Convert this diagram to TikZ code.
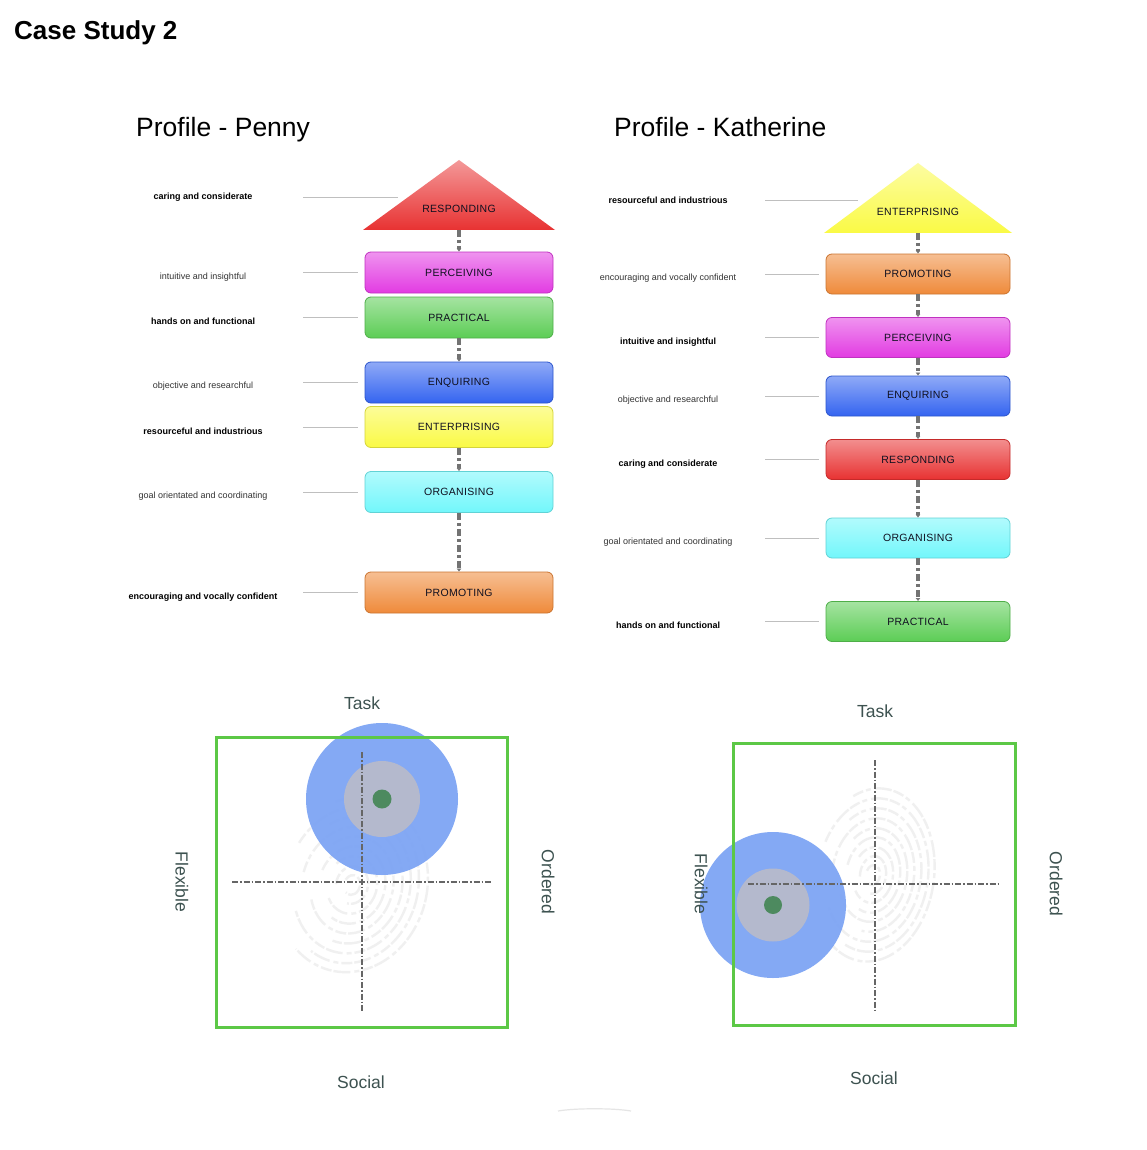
\documentclass[tikz,border=0pt]{standalone}
\usepackage{fontspec}
\setmainfont{Liberation Sans}
\newfontfamily\boxfont[LetterSpace=3]{Liberation Sans}
\usetikzlibrary{arrows.meta}
\definecolor{cmag}{HTML}{E23BE2}
\definecolor{cgrn}{HTML}{5CCD55}
\definecolor{cblu}{HTML}{3464F0}
\definecolor{cyel}{HTML}{FAFA45}
\definecolor{ccya}{HTML}{72F7FB}
\definecolor{cora}{HTML}{EF8A3A}
\definecolor{cred}{HTML}{E83232}
\definecolor{txtdark}{HTML}{101020}
\definecolor{qtext}{HTML}{3D5250}
\definecolor{qgreen}{HTML}{5CC846}
\definecolor{qblue}{HTML}{7AA2F4}
\definecolor{qgray}{HTML}{B4B9CD}
\definecolor{qdot}{HTML}{4D8A5F}
\tikzset{
  box/.style={draw=#1!85!black, rounded corners=6pt, minimum height=41pt, line width=0.8pt,
    font=\boxfont\fontsize{10.5}{12}\selectfont, text=txtdark, top color=#1!55!white, bottom color=#1, inner sep=0pt},
  pbox/.style={box=#1, minimum width=188pt},
  kbox/.style={box=#1, minimum width=184pt, minimum height=40pt},
  tritext/.style={font=\boxfont\fontsize{10.5}{12}\selectfont, text=txtdark, inner sep=0pt},
  conn/.style={draw=black!55, line width=4pt, dash pattern=on 7pt off 3pt on 3pt off 3pt,
    arrows={-Latex[length=3pt,width=5pt]}},
  lline/.style={draw=black!25, line width=0.8pt},
  lbold/.style={font=\bfseries\fontsize{9}{11}\selectfont, text=black, inner sep=0pt},
  lreg/.style={font=\fontsize{9}{11}\selectfont, text=black!80, inner sep=0pt},
  head/.style={font=\fontsize{26.5}{30}\selectfont, text=black, inner sep=0pt, anchor=base west},
  qlabel/.style={font=\fontsize{17.5}{20}\selectfont, text=qtext, inner sep=0pt},
  qframe/.style={draw=qgreen, line width=3pt},
  qaxis/.style={draw=black!60, line width=1.8pt, dash pattern=on 6pt off 2pt on 1.5pt off 2pt},
  fp/.style={draw=black!6, line width=2.4pt, dash pattern=on 11pt off 3pt on 5pt off 4pt on 17pt off 2pt},
}
\begin{document}
\begin{tikzpicture}[x=1pt,y=-1pt]
\useasboundingbox[fill=white] (0,0) rectangle (1146,1150);

% Title and headers
\node[anchor=base west, font=\bfseries\fontsize{26}{30}\selectfont, inner sep=0pt] (title) at (14,40) {Case Study 2};
\node[head] (hp) at (136,137) {Profile - Penny};
\node[head] (hk) at (614,137) {Profile - Katherine};

% ================= Penny profile =================
\shade[top color=cred!50!white, bottom color=cred] (459,160) -- (555,230) -- (363,230) -- cycle;
\coordinate (pTri) at (459,230);
\node[tritext] (pTriT) at (459,209) {RESPONDING};
\node[pbox=cmag] (pPer) at (459,272.5) {PERCEIVING};
\node[pbox=cgrn] (pPra) at (459,317.5) {PRACTICAL};
\node[pbox=cblu] (pEnq) at (459,382.5) {ENQUIRING};
\node[pbox=cyel] (pEnt) at (459,427) {ENTERPRISING};
\node[pbox=ccya] (pOrg) at (459,492) {ORGANISING};
\node[pbox=cora] (pPro) at (459,592.5) {PROMOTING};

\draw[conn] (pTri) -- (pPer.north);
\draw[conn] (pPra.south) -- (pEnq.north);
\draw[conn] (pEnt.south) -- (pOrg.north);
\draw[conn] (pOrg.south) -- (pPro.north);

\node[lbold] (pL1) at (203,197) {caring and considerate};
\node[lreg]  (pL2) at (203,277) {intuitive and insightful};
\node[lbold] (pL3) at (203,321) {hands on and functional};
\node[lreg]  (pL4) at (203,386) {objective and researchful};
\node[lbold] (pL5) at (203,431) {resourceful and industrious};
\node[lreg]  (pL6) at (203,496) {goal orientated and coordinating};
\node[lbold] (pL7) at (203,597) {encouraging and vocally confident};

\coordinate (pA1) at (303,197.5); \coordinate (pB1) at (398,197.5);
\draw[lline] (pA1) -- (pB1);
\coordinate (pA2) at (303,272.5); \draw[lline] (pA2) -- ([xshift=-7pt]pPer.west);
\coordinate (pA3) at (303,317.5); \draw[lline] (pA3) -- ([xshift=-7pt]pPra.west);
\coordinate (pA4) at (303,382.5); \draw[lline] (pA4) -- ([xshift=-7pt]pEnq.west);
\coordinate (pA5) at (303,427);   \draw[lline] (pA5) -- ([xshift=-7pt]pEnt.west);
\coordinate (pA6) at (303,492);   \draw[lline] (pA6) -- ([xshift=-7pt]pOrg.west);
\coordinate (pA7) at (303,592.5); \draw[lline] (pA7) -- ([xshift=-7pt]pPro.west);

% ================= Katherine profile =================
\shade[top color=cyel!50!white, bottom color=cyel] (918,163) -- (1012,233) -- (824,233) -- cycle;
\coordinate (kTri) at (918,233);
\node[tritext] (kTriT) at (918,212) {ENTERPRISING};
\node[kbox=cora] (kPro) at (918,274) {PROMOTING};
\node[kbox=cmag] (kPer) at (918,337.5) {PERCEIVING};
\node[kbox=cblu] (kEnq) at (918,396) {ENQUIRING};
\node[kbox=cred] (kRes) at (918,459.5) {RESPONDING};
\node[kbox=ccya] (kOrg) at (918,538) {ORGANISING};
\node[kbox=cgrn] (kPra) at (918,621.5) {PRACTICAL};

\draw[conn] (kTri) -- (kPro.north);
\draw[conn] (kPro.south) -- (kPer.north);
\draw[conn] (kPer.south) -- (kEnq.north);
\draw[conn] (kEnq.south) -- (kRes.north);
\draw[conn] (kRes.south) -- (kOrg.north);
\draw[conn] (kOrg.south) -- (kPra.north);

\node[lbold] (kL1) at (668,200) {resourceful and industrious};
\node[lreg]  (kL2) at (668,278) {encouraging and vocally confident};
\node[lbold] (kL3) at (668,342) {intuitive and insightful};
\node[lreg]  (kL4) at (668,400) {objective and researchful};
\node[lbold] (kL5) at (668,464) {caring and considerate};
\node[lreg]  (kL6) at (668,542) {goal orientated and coordinating};
\node[lbold] (kL7) at (668,625) {hands on and functional};

\coordinate (kA1) at (765,200); \coordinate (kB1) at (858,200);
\draw[lline] (kA1) -- (kB1);
\coordinate (kA2) at (765,274);   \draw[lline] (kA2) -- ([xshift=-7pt]kPro.west);
\coordinate (kA3) at (765,337.5); \draw[lline] (kA3) -- ([xshift=-7pt]kPer.west);
\coordinate (kA4) at (765,396);   \draw[lline] (kA4) -- ([xshift=-7pt]kEnq.west);
\coordinate (kA5) at (765,459.5); \draw[lline] (kA5) -- ([xshift=-7pt]kRes.west);
\coordinate (kA6) at (765,538);   \draw[lline] (kA6) -- ([xshift=-7pt]kOrg.west);
\coordinate (kA7) at (765,621.5); \draw[lline] (kA7) -- ([xshift=-7pt]kPra.west);

% ================= Penny quadrant =================
\begin{scope}[shift={(352,885)}, rotate=-15]
  \foreach \rx/\ry/\s/\e in {8/10/200/480, 16/19/170/450, 25/29/215/500, 33/39/190/470, 41/49/225/510, 50/59/180/455, 58/69/230/505, 66/79/200/470, 75/88/240/480}
    \draw[fp] (\s:{\rx} and {\ry}) arc[start angle=\s, end angle=\e, x radius=\rx, y radius=\ry];
\end{scope}
\fill[qblue, opacity=0.92] (382,799) circle[radius=76];
\fill[qgray] (382,799) circle[radius=38];
\fill[qdot] (382,799) circle[radius=9.5];
\coordinate (pH1) at (232,882); \coordinate (pH2) at (491,882);
\coordinate (pV1) at (362,752); \coordinate (pV2) at (362,1012);
\draw[qaxis] (pH1) -- (pH2);
\draw[qaxis] (pV1) -- (pV2);
\draw[qframe] (216,737) rectangle (507,1027);
\node[qlabel] (pTask) at (362,703) {Task};
\node[qlabel] (pSoc) at (361,1082) {Social};
\node[qlabel, rotate=-90] (pFlex) at (182,882) {Flexible};
\node[qlabel, rotate=-90] (pOrd) at (548,882) {Ordered};

% ================= Katherine quadrant =================
\begin{scope}[shift={(873,875)}, rotate=-8]
  \foreach \rx/\ry/\s/\e in {7/10/200/480, 13/19/170/450, 20/28/215/500, 27/38/190/470, 34/47/225/510, 41/57/180/455, 48/67/230/505, 55/77/200/470, 61/87/240/480}
    \draw[fp] (\s:{\rx} and {\ry}) arc[start angle=\s, end angle=\e, x radius=\rx, y radius=\ry];
\end{scope}
\fill[qblue, opacity=0.92] (773,905) circle[radius=73];
\fill[qgray] (773,905) circle[radius=36.5];
\fill[qdot] (773,905) circle[radius=9];
\coordinate (kH1) at (748,884); \coordinate (kH2) at (1000,884);
\coordinate (kV1) at (875,760); \coordinate (kV2) at (875,1010);
\draw[qaxis] (kH1) -- (kH2);
\draw[qaxis] (kV1) -- (kV2);
\draw[qframe] (733,743) rectangle (1015,1025);
\node[qlabel] (kTask) at (875,711) {Task};
\node[qlabel] (kSoc) at (874,1078) {Social};
\node[qlabel, rotate=-90] (kFlex) at (701,884) {Flexible};
\node[qlabel, rotate=-90] (kOrd) at (1056,884) {Ordered};

% faint mark at bottom
\coordinate (m1) at (558,1111); \coordinate (m2) at (631,1111);
\draw[black!10, line width=1.2pt] (m1) .. controls (575,1108) and (614,1108) .. (m2);
\end{tikzpicture}
\end{document}
